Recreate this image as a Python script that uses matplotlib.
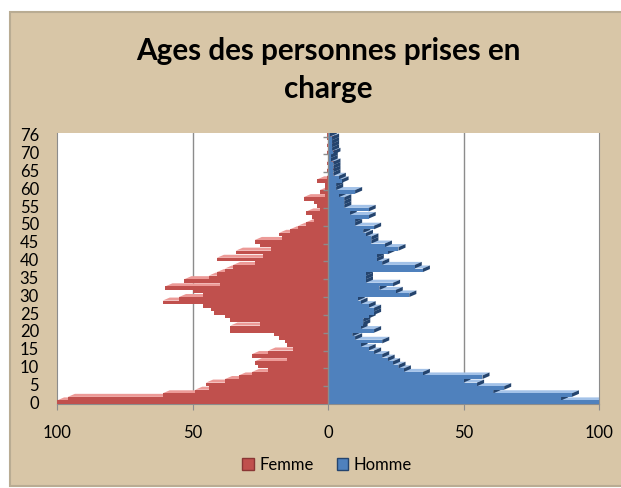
import matplotlib
matplotlib.use('Agg')
import matplotlib.pyplot as plt
from matplotlib.patches import Rectangle, Polygon, Patch
import numpy as np

# categories (age 75 has no entry in the source table)
ages = list(range(0, 75)) + [76]

femme = [100, 96, 61, 49, 44, 45, 38, 33, 28, 22,
         26, 27, 15, 28, 22, 13, 15, 16, 18, 20,
         36, 36, 25, 36, 38, 42, 43, 46, 61, 55,
         46, 50, 60, 40, 53, 44, 41, 38, 35, 27,
         41, 24, 34, 21, 25, 27, 17, 18, 14, 11,
         8, 5, 6, 8, 3, 4, 5, 9, 1, 3,
         1, 1, 4, 0.5, 0, 0.5, 0, 0.5, 0, 0,
         0.5, 0, 0.5, 0, 0.5, 0.5]

homme = [100, 86, 90, 61, 65, 55, 50, 57, 35, 28,
         26, 24, 22, 20, 17, 15, 12, 20, 10, 9,
         17, 12, 13, 13, 15, 17, 17, 15, 12, 11,
         30, 25, 19, 24, 14, 14, 14, 35, 32, 20,
         18, 18, 22, 26, 21, 16, 16, 14, 13, 17,
         10, 10, 15, 8, 15, 6, 6, 6, 4, 10,
         3, 3, 5, 4, 2, 2, 2, 2, 1, 1,
         2, 1.5, 1.5, 1.5, 1.5, 0.7]

x_ticks = [-100, -50, 0, 50, 100]

red_front, red_top, red_side = '#C0504D', '#EC9A97', '#8A3634'
blue_front, blue_top, blue_side = '#4F81BD', '#A3C2E8', '#24446E'
tan = '#D8C6A7'

plt.rcParams['font.family'] = ['Lato', 'DejaVu Sans']

fig = plt.figure(figsize=(6.21, 4.88), dpi=100)
fig.patch.set_facecolor('white')

# chart area background with a soft bevel
fig.patches.append(Rectangle((10/621, 2/488), 1, 474/488, transform=fig.transFigure,
                             facecolor=tan, edgecolor='#B9AC93', linewidth=1.5, zorder=-1))

ax = fig.add_axes([57/621, 84/488, 542/621, 271/488])
ax.set_facecolor('white')

y = np.arange(len(ages))
h = 1.0          # front face height
dx, dy = 2.6, 0.85   # depth offset (data units)

# back parts first: top faces and end faces
for yi, f, m in zip(y, femme, homme):
    yt = yi + h/2
    if f > 0:
        ax.add_patch(Polygon([(-f, yt), (0, yt), (dx, yt + dy), (-f + dx, yt + dy)],
                             closed=True, facecolor=red_top, edgecolor='none', zorder=2))
        ax.add_patch(Polygon([(0, yi - h/2), (0, yt), (dx, yt + dy), (dx, yi - h/2 + dy)],
                             closed=True, facecolor=red_side, edgecolor='none', zorder=2))
    if m > 0:
        ax.add_patch(Polygon([(0, yt), (m, yt), (m + dx, yt + dy), (dx, yt + dy)],
                             closed=True, facecolor=blue_top, edgecolor='none', zorder=2))
        ax.add_patch(Polygon([(m, yi - h/2), (m, yt), (m + dx, yt + dy), (m + dx, yi - h/2 + dy)],
                             closed=True, facecolor=blue_side, edgecolor='none', zorder=2))

# front faces
ax.barh(y, [-v for v in femme], height=h, color=red_front, zorder=3)
ax.barh(y, homme, height=h, color=blue_front, zorder=3)

ax.set_xlim(-100, 100)
ax.set_ylim(-0.5, len(ages) - 0.5)

# gridlines and centre axis
for gx in [-50, 50]:
    ax.axvline(gx, color='#8C8C8C', linewidth=1, zorder=1)
ax.axvline(0, color='#8C8C8C', linewidth=1, zorder=4)
tick_idx = list(range(0, len(ages), 5))
ax.hlines([i - 0.5 for i in tick_idx[1:]], -2, 0, color='#8C8C8C', linewidth=1, zorder=4)

ax.set_xticks(x_ticks)
ax.set_xticklabels([str(abs(v)) for v in x_ticks], fontsize=12)
ax.set_yticks(tick_idx)
ax.set_yticklabels([str(ages[i]) for i in tick_idx], fontsize=12)
ax.tick_params(axis='y', length=0, pad=13)
ax.tick_params(axis='x', length=4, color='#8C8C8C', pad=11)

for side in ['left', 'right', 'bottom']:
    ax.spines[side].set_color('#8C8C8C')
ax.spines['top'].set_visible(False)

fig.text(328/621, 1 - 70/488, "Ages des personnes prises en\ncharge",
         ha='center', va='center', fontsize=21.3, fontweight='bold', linespacing=1.45)

handles = [Patch(facecolor=red_front, edgecolor='#8A3634', label='Femme'),
           Patch(facecolor=blue_front, edgecolor='#24446E', label='Homme')]
fig.legend(handles=handles, loc='center', bbox_to_anchor=(327/621, 1 - 465/488),
           ncol=2, frameon=False, fontsize=12, handlelength=0.7, handleheight=0.7,
           handletextpad=0.3, columnspacing=1.4)

plt.savefig("out.png", dpi=100, facecolor=fig.get_facecolor())
